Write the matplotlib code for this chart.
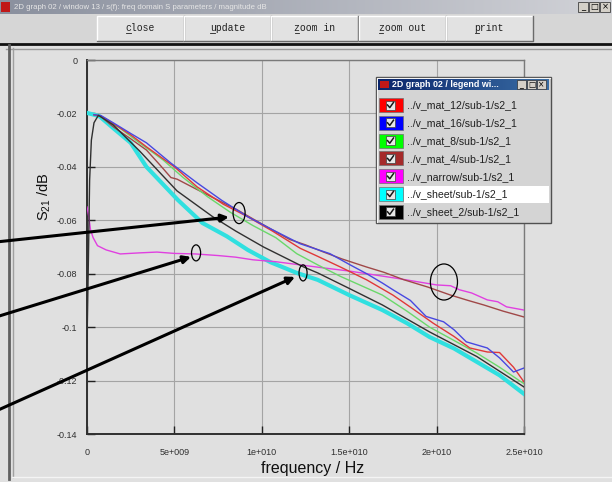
import numpy as np
import matplotlib
matplotlib.use('Agg')
import matplotlib.pyplot as plt
from matplotlib.patches import Rectangle, Ellipse
from matplotlib.colors import LinearSegmentedColormap

plt.rcParams['font.family'] = ['Liberation Sans', 'DejaVu Sans']
plt.rcParams['mathtext.default'] = 'regular'

# --- data : frequency (GHz) / S21 (dB) ---
f_mat12 = [0.4, 0.8, 1.5, 2.5, 3.4, 5.0, 6.3, 7.8, 9.2, 10.6, 12.2, 13.2, 14.5, 16.0,
           17.5, 18.5, 19.8, 21.0, 21.9, 22.9, 23.6, 24.4, 25.0]
s_mat12 = [-0.0205, -0.0210, -0.0238, -0.0280, -0.0325, -0.0400, -0.0475, -0.0540, -0.0587,
           -0.0640, -0.0705, -0.0735, -0.0775, -0.0823, -0.0880, -0.0925, -0.0985, -0.1035,
           -0.1078, -0.1093, -0.1095, -0.1150, -0.1205]

f_mat16 = [0.4, 0.8, 1.5, 2.5, 3.4, 4.8, 6.3, 7.7, 9.2, 10.6, 12.2, 13.9, 15.0, 16.0,
           16.9, 17.5, 18.5, 19.4, 20.4, 21.0, 21.7, 22.9, 23.6, 24.4, 25.0]
s_mat16 = [-0.0205, -0.0208, -0.0235, -0.0275, -0.0310, -0.0386, -0.0460, -0.0525, -0.0587,
           -0.0635, -0.0688, -0.0725, -0.0765, -0.0800, -0.0835, -0.0860, -0.0900, -0.0960,
           -0.0980, -0.1010, -0.1055, -0.1078, -0.1115, -0.1168, -0.1153]

f_mat8 = [0.4, 0.8, 1.9, 3.0, 4.35, 5.5, 6.9, 8.2, 9.5, 10.8, 12.0, 13.2, 14.5, 16.9,
          18.3, 19.6, 21.0, 22.3, 23.6, 25.0]
s_mat8 = [-0.0205, -0.0212, -0.0256, -0.0310, -0.0374, -0.0440, -0.0512, -0.0570, -0.0620,
          -0.0665, -0.0725, -0.0767, -0.0810, -0.0880, -0.0940, -0.1000, -0.1050, -0.1097,
          -0.1150, -0.1212]

f_mat4 = [0.4, 0.8, 1.5, 2.5, 3.4, 4.2, 4.8, 5.15, 6.3, 7.5, 8.6, 9.5, 10.5, 11.6, 12.5,
          13.5, 14.6, 16.0, 17.0, 18.1, 19.5, 20.8, 21.8, 22.7, 23.8, 25.0]
s_mat4 = [-0.0205, -0.0212, -0.0250, -0.0295, -0.0337, -0.0395, -0.0440, -0.0446, -0.0485,
          -0.0525, -0.0561, -0.0595, -0.0632, -0.0672, -0.0692, -0.0718, -0.0745, -0.0775,
          -0.0795, -0.0822, -0.0850, -0.0880, -0.0900, -0.0917, -0.0940, -0.0962]

f_narrow = [0.0, 0.1, 0.2, 0.35, 0.6, 1.1, 1.9, 3.0, 4.0, 5.0, 6.2, 7.5, 8.5, 9.5, 10.8,
            12.2, 13.5, 15.0, 16.5, 17.8, 18.9, 20.0, 20.8, 21.3, 22.0, 22.9, 23.5, 24.0,
            24.5, 25.0]
s_narrow = [-0.0550, -0.0585, -0.0635, -0.0665, -0.0695, -0.0711, -0.0726, -0.0722, -0.0719,
            -0.0724, -0.0726, -0.0732, -0.0738, -0.0748, -0.0755, -0.0767, -0.0778, -0.0790,
            -0.0805, -0.0818, -0.0830, -0.0842, -0.0845, -0.0860, -0.0872, -0.0898, -0.0905,
            -0.0924, -0.0930, -0.0936]

f_sheet = [0.0, 0.7, 1.5, 2.5, 3.4, 5.2, 6.6, 8.0, 9.2, 10.5, 12.0, 13.2, 15.0, 16.9,
           18.3, 19.6, 21.0, 22.3, 23.6, 25.0]
s_sheet = [-0.0198, -0.0210, -0.0255, -0.0310, -0.0400, -0.0524, -0.0610, -0.0660, -0.0711,
           -0.0757, -0.0797, -0.0823, -0.0880, -0.0936, -0.0985, -0.1037, -0.1080, -0.1130,
           -0.1180, -0.1250]

f_sheet2 = [0.0, 0.08, 0.15, 0.25, 0.4, 0.65, 1.5, 3.0, 5.15, 7.2, 8.5, 10.1, 12.4, 13.2,
            15.0, 16.9, 19.6, 22.3, 25.0]
s_sheet2 = [-0.1060, -0.0750, -0.0450, -0.0300, -0.0235, -0.0207, -0.0243, -0.0340, -0.0490,
            -0.0587, -0.0640, -0.0700, -0.0775, -0.0797, -0.0855, -0.0917, -0.1018, -0.1110,
            -0.1224]

labels = ['../v_mat_12/sub-1/s2_1', '../v_mat_16/sub-1/s2_1', '../v_mat_8/sub-1/s2_1',
          '../v_mat_4/sub-1/s2_1', '../v_narrow/sub-1/s2_1', '../v_sheet/sub-1/s2_1',
          '../v_sheet_2/sub-1/s2_1']
swatch_colors = ['#ff0000', '#0000ff', '#00ff00', '#a52a2a', '#ff00ff', '#00ffff', '#000000']
line_colors = ['#e03838', '#4848e0', '#6ad86a', '#a04848', '#e040e0', '#30e0e0', '#303030']

yticks = [0, -0.02, -0.04, -0.06, -0.08, -0.1, -0.12, -0.14]
ytick_labels = ['0', '-0.02', '-0.04', '-0.06', '-0.08', '-0.1', '-0.12', '-0.14']
xticks = [0, 5e9, 1e10, 1.5e10, 2e10, 2.5e10]
xtick_labels = ['0', '5e+009', '1e+010', '1.5e+010', '2e+010', '2.5e+010']

# annotation marks (data coordinates, GHz / dB)
ell_f = [8.70, 6.24, 12.36, 20.42]
ell_s = [-0.0573, -0.0722, -0.0797, -0.0831]
ell_w = [0.69, 0.52, 0.46, 1.55]
ell_h = [0.0079, 0.0060, 0.0060, 0.0135]
arrow_tip_f = [8.12, 5.95, 11.9]
arrow_tip_s = [-0.0588, -0.0737, -0.0812]
arrow_tail_px = [(-4, 240), (-4, 165), (-4, 71)]

W, H = 612, 482
fig = plt.figure(figsize=(W / 100, H / 100), dpi=100)
fig.patch.set_facecolor('#e0e0e0')

# ---------- window chrome ----------
bg = fig.add_axes([0, 0, 1, 1], zorder=0)
bg.set_xlim(0, W)
bg.set_ylim(H, 0)
bg.axis('off')


def rect(ax, x0, y0, x1, y1, **kw):
    ax.add_patch(Rectangle((x0, y0), x1 - x0, y1 - y0, **kw))


grad = np.linspace(0, 1, 256)[None, :]
bg.imshow(grad, extent=(0, W, 14, 0), aspect='auto',
          cmap=LinearSegmentedColormap.from_list('t', ['#8a909e', '#d2d3d8']), zorder=1)
bg.set_xlim(0, W)
bg.set_ylim(H, 0)
rect(bg, 1, 2, 10, 12, facecolor='#c01818', edgecolor='none', zorder=2)
bg.text(14, 7.5, '2D graph 02 / window 13 / s(f): freq domain S parameters / magnitude dB',
        fontsize=5.6, color='#e6e6e6', va='center', ha='left', zorder=3)
for i, g in enumerate(['_', '\u25a1', '\u00d7']):
    x0 = 578 + i * 11
    rect(bg, x0, 2, x0 + 10, 12, facecolor='#d4d0c8', edgecolor='#404040', lw=0.6, zorder=2)
    bg.text(x0 + 5, 7, g, fontsize=6, ha='center', va='center', family='DejaVu Sans', zorder=3)

rect(bg, 0, 14, W, 43, facecolor='#d6d6d6', edgecolor='none', zorder=1)
buttons = ['close', 'update', 'zoom in', 'zoom out', 'print']
for i, b in enumerate(buttons):
    x0 = 97 + i * 87.2
    rect(bg, x0, 16, x0 + 87, 41, facecolor='#e2e2e2', edgecolor='none', zorder=2)
    bg.plot([x0, x0, x0 + 87], [41, 16, 16], color='#ffffff', lw=1, zorder=3)
    bg.plot([x0, x0 + 87, x0 + 87], [41, 41, 16], color='#6a6a6a', lw=1, zorder=3)
    bg.text(x0 + 43.5, 28, b, fontsize=7, family='Liberation Mono', color='#202020',
            ha='center', va='center', zorder=4)
    bg.plot([x0 + 43.5 - len(b) * 2.9, x0 + 43.5 - len(b) * 2.9 + 4.5], [33, 33],
            color='#202020', lw=0.6, zorder=4)

bg.plot([0, W], [44, 44], color='#111111', lw=2, zorder=3)
rect(bg, 0, 45, W, H, facecolor='#e0e0e0', edgecolor='none', zorder=1)
bg.plot([6, W], [48.5, 48.5], color='#9a9a9a', lw=1, zorder=3)
bg.plot([8.5, 8.5], [45, H - 3], color='#606060', lw=2, zorder=3)
bg.plot([12.5, 12.5], [48, H - 5], color='#a0a0a0', lw=1, zorder=3)
bg.plot([12, W], [H - 5, H - 5], color='#f4f4f4', lw=1, zorder=3)

# ---------- main plot ----------
ax = fig.add_axes([87 / W, 1 - 434 / H, 437 / W, 374 / H], zorder=1)
ax.set_facecolor('#e0e0e0')

series = [(f_mat12, s_mat12), (f_mat16, s_mat16), (f_mat8, s_mat8), (f_mat4, s_mat4),
          (f_narrow, s_narrow), (f_sheet, s_sheet), (f_sheet2, s_sheet2)]
order = [5, 4, 3, 2, 0, 1, 6]
for k in order:
    f, s = series[k]
    lw = 3.0 if k == 5 else 1.0
    ax.plot(np.array(f) * 1e9, s, color=line_colors[k], lw=lw, zorder=3 + (k != 5))

ax.set_xlim(0, 2.5e10)
ax.set_ylim(-0.14, 0)
ax.set_xticks(xticks)
ax.set_xticklabels(xtick_labels)
ax.set_yticks(yticks)
ax.set_yticklabels(ytick_labels)
ax.tick_params(direction='in', length=6, width=1, colors='#202020', labelsize=6.5,
               labelcolor='#303030')
ax.tick_params(axis='x', pad=10)
ax.tick_params(axis='y', pad=7)
ax.grid(True, color='#a4a4a4', lw=0.8)
for side in ['left', 'bottom']:
    ax.spines[side].set_color('#303030')
    ax.spines[side].set_linewidth(1.4)
for side in ['top', 'right']:
    ax.spines[side].set_color('#7a7a7a')
    ax.spines[side].set_linewidth(1.0)

ax.set_xlabel('frequency / Hz', fontsize=11.5, va='center', color='#101010')
ax.xaxis.set_label_coords(0.517, -0.091)
ax.set_ylabel('S$_{21}$ /dB', fontsize=10.5, va='center', ha='center', color='#101010')
ax.yaxis.set_label_coords(-0.098, 0.636)

for i in range(len(ell_f)):
    ax.add_patch(Ellipse((ell_f[i] * 1e9, ell_s[i]), ell_w[i] * 1e9, ell_h[i], fill=False,
                         edgecolor='black', lw=0.9, zorder=6))
for i in range(len(arrow_tip_f)):
    ax.annotate('', xy=(arrow_tip_f[i] * 1e9, arrow_tip_s[i]), xycoords='data',
                xytext=arrow_tail_px[i], textcoords='figure pixels', annotation_clip=False,
                arrowprops=dict(arrowstyle='-|>', color='black', lw=2.2, mutation_scale=11,
                                shrinkA=0, shrinkB=0), zorder=7)

# ---------- legend window ----------
lg = fig.add_axes([0, 0, 1, 1], zorder=3)
lg.set_xlim(0, W)
lg.set_ylim(H, 0)
lg.axis('off')
lg.patch.set_alpha(0)

rect(lg, 376, 77, 551, 223, facecolor='#d4d4d4', edgecolor='#505050', lw=1, zorder=1)
lg.plot([377, 377, 550], [222, 78, 78], color='#f4f4f4', lw=0.8, zorder=2)
lg.imshow(grad, extent=(378, 549, 90, 79), aspect='auto',
          cmap=LinearSegmentedColormap.from_list('l', ['#0a246a', '#3a6ea5']), zorder=2)
lg.set_xlim(0, W)
lg.set_ylim(H, 0)
rect(lg, 380, 81, 389, 88, facecolor='#c01818', edgecolor='none', zorder=3)
lg.text(392, 84.5, '2D graph 02 / legend wi...', fontsize=6.4, color='white',
        weight='bold', va='center', ha='left', zorder=4)
for i, g in enumerate(['_', '\u25a1', '\u00d7']):
    x0 = 517 + i * 10
    rect(lg, x0, 80, x0 + 9, 89, facecolor='#d4d0c8', edgecolor='#303030', lw=0.5, zorder=3)
    lg.text(x0 + 4.5, 84.5, g, fontsize=5.5, ha='center', va='center',
            family='DejaVu Sans', zorder=4)

for i, lab in enumerate(labels):
    c = 105 + i * 17.8
    if i == 5:
        rect(lg, 404, c - 8.5, 549, c + 8.5, facecolor='#ffffff', edgecolor='none', zorder=2)
    rect(lg, 379, c - 7, 403, c + 7, facecolor=swatch_colors[i], edgecolor='#707070',
         lw=0.5, zorder=3)
    rect(lg, 386, c - 4.5, 395, c + 4.5, facecolor='#e8e8e8', edgecolor='#404040',
         lw=0.5, zorder=4)
    lg.plot([387.5, 389.8, 393.5], [c, c + 2.6, c - 2.6], color='#181818', lw=1.1, zorder=5)
    lg.text(407, c + 0.5, lab, fontsize=7.6, color='#202020', ha='left', va='center', zorder=4)

fig.savefig('out.png', dpi=100, facecolor=fig.get_facecolor())
